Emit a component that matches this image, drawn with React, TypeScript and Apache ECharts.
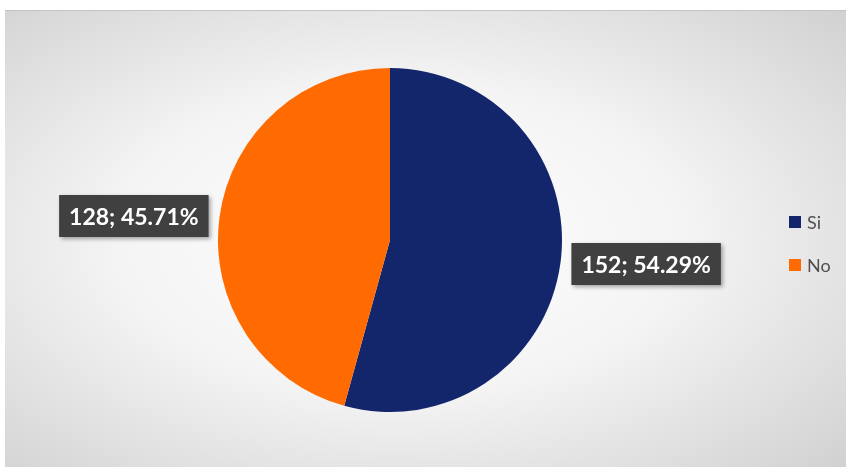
import React, { useEffect, useRef } from "react";
import * as echarts from "echarts";

const categories = ["Si", "No"];
const values = [152, 128];
const percents = ["54.29%", "45.71%"];
const colors = ["#14266b", "#ff6b00"];

export default function App() {
  const ref = useRef<HTMLDivElement>(null);
  useEffect(() => {
    const chart = echarts.init(ref.current!, null, { renderer: "svg" });
    chart.setOption({
      animation: false,
      graphic: [
        {
          type: "rect",
          z: -10,
          shape: { x: 5, y: 10, width: 841, height: 457 },
          style: {
            fill: new echarts.graphic.RadialGradient(0.47, 0.5, 0.75, [
              { offset: 0, color: "#ffffff" },
              { offset: 0.45, color: "#f4f4f4" },
              { offset: 1, color: "#cfcfcf" },
            ]),
          },
        },
        {
          type: "line",
          z: -9,
          shape: { x1: 5, y1: 10.5, x2: 846, y2: 10.5 },
          style: { stroke: "#c4c4c4", lineWidth: 1 },
        },
      ],
      legend: {
        orient: "vertical",
        left: 784,
        top: 208,
        itemWidth: 12,
        itemHeight: 12,
        itemGap: 25,
        icon: "rect",
        textStyle: { color: "#505050", fontSize: 18, fontFamily: "Lato", padding: [0, 0, 0, 1] },
        data: categories,
      },
      series: [
        {
          type: "pie",
          center: [390, 240],
          radius: 172,
          startAngle: 90,
          clockwise: true,
          data: categories.map((c, i) => ({
            name: c,
            value: values[i],
            itemStyle: { color: colors[i] },
          })),
          label: {
            show: true,
            position: "outside",
            formatter: (p: any) => `${values[p.dataIndex]}; ${percents[p.dataIndex]}`,
            color: "#ffffff",
            fontFamily: "Lato",
            fontWeight: "bold",
            fontSize: 23,
            backgroundColor: "#404040",
            padding: [10, 10, 9, 10],
            shadowColor: "rgba(0,0,0,0.35)",
            shadowBlur: 4,
            shadowOffsetX: 2,
            shadowOffsetY: 2,
          },
          labelLine: { show: false, length: 6, length2: 0 },
          emphasis: { disabled: true },
        },
      ],
    });
    return () => chart.dispose();
  }, []);
  return (
    <div
      ref={ref}
      style={{ position: "fixed", left: 0, top: 0, width: 846, height: 467 }}
    />
  );
}
